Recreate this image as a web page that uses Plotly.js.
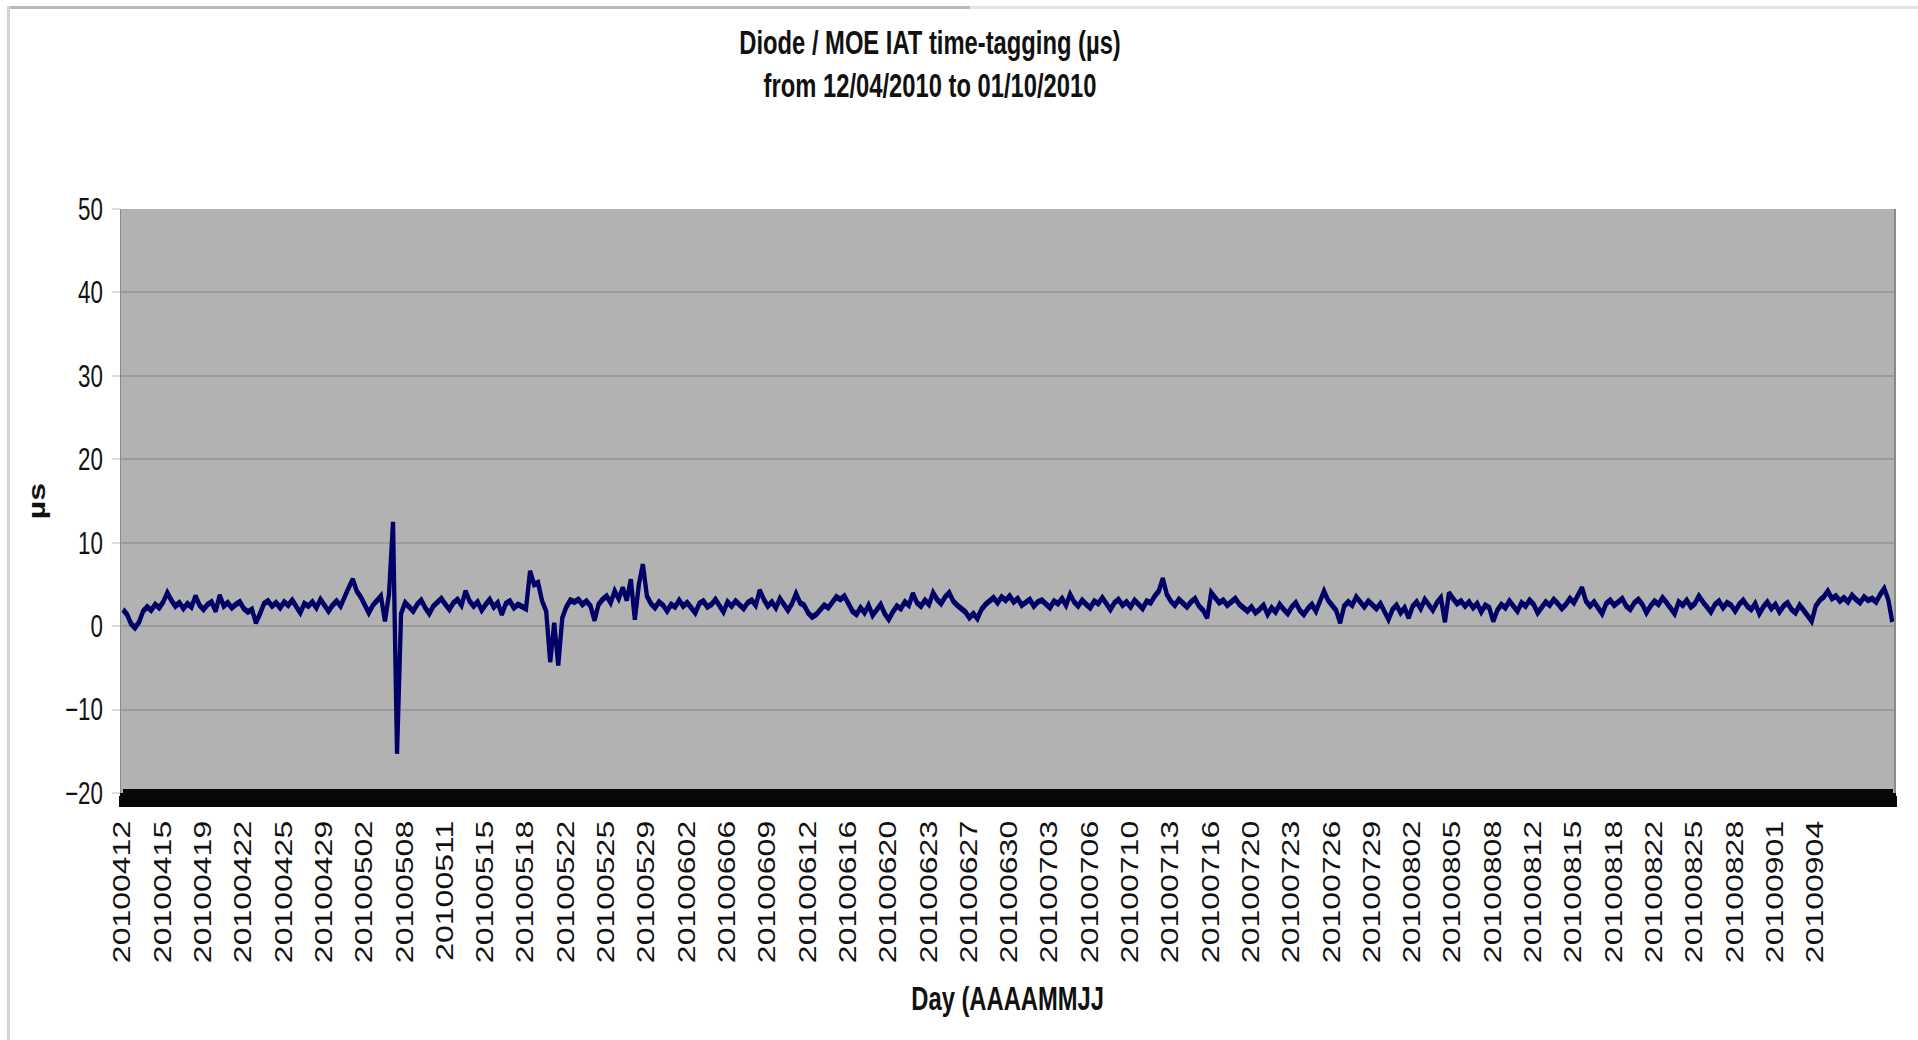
<!DOCTYPE html>
<html>
<head>
<meta charset="utf-8">
<script src="https://cdn.plot.ly/plotly-3.0.1.min.js"></script>
<style>
  html, body { margin: 0; padding: 0; background: #ffffff; overflow: hidden; }
  #frame { position: relative; width: 1918px; height: 1040px; overflow: hidden; background: #ffffff; }
  #edgeTopDark { position: absolute; left: 7px; top: 6px; width: 963px; height: 3px; background: #b9b9b9; }
  #edgeTopLight { position: absolute; left: 970px; top: 6px; width: 948px; height: 3px; background: #e3e3e3; }
  #edgeLeft { position: absolute; left: 7px; top: 6px; width: 3px; height: 1034px; background: #d3d3d3; }
  /* the chart is laid out wide and squeezed horizontally, giving its narrow lettering */
  #squeeze { position: absolute; left: 0; top: 0; transform-origin: 0 0; }
</style>
</head>
<body>
<div id="frame">
  <div id="edgeTopDark"></div>
  <div id="edgeTopLight"></div>
  <div id="edgeLeft"></div>
  <div id="squeeze"><div id="chart"></div></div>
</div>
<script>
// Category labels shown on the day axis (one every labelStep samples)
const dayLabels = [
  '20100412','20100415','20100419','20100422','20100425','20100429','20100502','20100508',
  '20100511','20100515','20100518','20100522','20100525','20100529','20100602','20100606',
  '20100609','20100612','20100616','20100620','20100623','20100627','20100630','20100703',
  '20100706','20100710','20100713','20100716','20100720','20100723','20100726','20100729',
  '20100802','20100805','20100808','20100812','20100815','20100818','20100822','20100825',
  '20100828','20100901','20100904'
];
const labelStep = 10;

// Diode / MOE IAT time-tagging samples, in microseconds
const iatMicros = [
  2.0, 1.4, 0.3, -0.2, 0.5, 1.8, 2.3, 1.9, 2.6, 2.2, 2.9, 4.0, 3.1, 2.4, 2.8, 2.1, 2.7, 2.3, 3.6, 2.5,
  2.0, 2.6, 2.9, 1.8, 3.7, 2.4, 2.8, 2.2, 2.6, 2.9, 2.1, 1.7, 2.0, 0.4, 1.5, 2.7, 3.0, 2.4, 2.8, 2.2,
  2.9, 2.5, 3.1, 2.3, 1.6, 2.7, 2.4, 2.9, 2.2, 3.2, 2.6, 1.8, 2.5, 3.0, 2.4, 3.6, 4.6, 5.6, 4.2, 3.5,
  2.6, 1.6, 2.5, 3.1, 3.6, 0.6, 3.8, 12.5, -15.3, 1.5, 2.8, 2.3, 1.8, 2.6, 3.1, 2.2, 1.5, 2.4, 2.9, 3.3,
  2.6, 2.0, 2.8, 3.2, 2.5, 4.2, 3.0, 2.4, 2.9, 1.9, 2.6, 3.2, 2.3, 2.8, 1.4, 2.7, 3.0, 2.2, 2.6, 2.4,
  2.1, 6.6, 5.0, 5.2, 3.0, 1.8, -4.3, 0.4, -4.7, 1.0, 2.3, 3.1, 2.9, 3.2, 2.6, 3.0, 2.4, 0.7, 2.6, 3.2,
  3.6, 2.8, 4.2, 3.3, 4.6, 3.1, 5.6, 0.8, 5.0, 7.4, 3.6, 2.7, 2.2, 2.9, 2.5, 1.8, 2.6, 2.3, 3.1, 2.4,
  2.8, 2.2, 1.6, 2.7, 3.0, 2.3, 2.6, 3.2, 2.5, 1.7, 2.9, 2.4, 3.0, 2.6, 2.1, 2.8, 3.1, 2.5, 4.3, 3.2,
  2.4, 2.9, 2.2, 3.3, 2.6, 1.9, 2.7, 3.9, 2.8, 2.5, 1.6, 1.1, 1.4, 1.9, 2.5, 2.2, 2.8, 3.5, 3.2, 3.6,
  2.7, 1.8, 1.4, 2.2, 1.6, 2.5, 1.3, 1.9, 2.6, 1.5, 0.8, 1.7, 2.4, 2.1, 2.9, 2.5, 3.9, 2.8, 2.4, 3.1,
  2.6, 4.0, 3.2, 2.7, 3.5, 4.0, 3.0, 2.5, 2.1, 1.7, 1.0, 1.5, 0.9, 2.0, 2.6, 3.0, 3.4, 2.8, 3.5, 3.1,
  3.6, 2.9, 3.3, 2.5, 2.8, 3.2, 2.4, 2.9, 3.1, 2.6, 2.2, 3.0, 2.7, 3.3, 2.5, 3.8, 2.9, 2.4, 3.1, 2.6,
  2.2, 3.0, 2.7, 3.4, 2.6, 2.0, 2.8, 3.2, 2.5, 2.9, 2.3, 3.1, 2.6, 2.1, 3.0, 2.8, 3.6, 4.2, 5.7, 3.8,
  3.0, 2.5, 3.2, 2.8, 2.3, 2.9, 3.3, 2.4, 1.9, 1.0, 4.0, 3.4, 2.8, 3.1, 2.5, 2.9, 3.3, 2.6, 2.2, 1.8,
  2.3, 1.6, 2.0, 2.5, 1.4, 2.2, 1.7, 2.6, 2.0, 1.5, 2.3, 2.8, 1.9, 1.4, 2.1, 2.6, 1.8, 2.9, 4.2, 3.1,
  2.6, 1.9, 0.4, 2.4, 2.9, 2.5, 3.5, 2.8, 2.3, 3.0, 2.6, 2.1, 2.7, 1.8, 0.8, 2.0, 2.5, 1.6, 2.2, 1.0,
  2.4, 2.9, 2.1, 3.2, 2.6, 1.9, 2.8, 3.4, 0.5, 4.0, 3.3, 2.7, 3.0, 2.4, 2.9, 2.2, 2.7, 1.7, 2.5, 2.2,
  0.6, 1.9, 2.6, 2.2, 3.0, 2.5, 1.8, 2.8, 2.4, 3.1, 2.6, 1.6, 2.3, 2.9, 2.5, 3.2, 2.7, 2.1, 2.6, 3.3,
  2.8, 3.6, 4.6, 3.0, 2.4, 2.9, 2.2, 1.5, 2.7, 3.1, 2.5, 2.9, 3.3, 2.4, 2.0, 2.8, 3.2, 2.6, 1.6, 2.4,
  3.0, 2.6, 3.4, 2.8, 2.2, 1.5, 2.9, 2.5, 3.1, 2.3, 2.7, 3.6, 2.9, 2.4, 1.7, 2.6, 3.0, 2.2, 2.8, 2.5,
  1.8, 2.6, 3.1, 2.4, 2.0, 2.7, 1.5, 2.3, 2.9, 2.1, 2.6, 1.7, 2.4, 2.8, 2.0, 1.6, 2.5, 1.9, 1.2, 0.6,
  2.4, 3.1, 3.5, 4.2, 3.3, 3.6, 3.0, 3.4, 2.9, 3.7, 3.2, 2.8, 3.5, 3.1, 3.3, 2.9, 3.8, 4.5, 3.2, 0.5
];

// Horizontal squeeze applied to the whole chart
const squeeze = 0.72;
const pageW = 1918, pageH = 1040;
const chartW = Math.round(pageW / squeeze);

const sampleIndex = iatMicros.map((_, i) => i);
const tickIdx = dayLabels.map((_, k) => k * labelStep);
const xRange = [-0.5, iatMicros.length - 0.5];

const fontFamily = '"Liberation Sans", Arial, sans-serif';
const textColor = '#111111';
const bandColor = '#080808';

// Hidden copies of the series that carry the two tick-mark axes
function carrier(axisId) {
  return {
    type: 'scatter', mode: 'lines',
    x: sampleIndex, y: iatMicros,
    xaxis: axisId, yaxis: 'y',
    line: { color: 'rgba(0,0,0,0)', width: 0 },
    hoverinfo: 'skip', showlegend: false
  };
}

const traces = [
  carrier('x2'),
  carrier('x3'),
  {
    type: 'scatter',
    mode: 'lines',
    x: sampleIndex,
    y: iatMicros,
    xaxis: 'x', yaxis: 'y',
    line: { color: '#000066', width: 6 },
    hoverinfo: 'skip',
    showlegend: false
  }
];

const layout = {
  width: chartW,
  height: pageH,
  paper_bgcolor: 'rgba(0,0,0,0)',
  plot_bgcolor: '#b2b2b2',
  margin: { l: Math.round(121 / squeeze), r: chartW - Math.round(1894 / squeeze), t: 209, b: 247 },
  showlegend: false,
  title: {
    text: 'Diode / MOE IAT time-tagging (µs)<br>from 12/04/2010 to 01/10/2010',
    font: { family: fontFamily, size: 33, color: textColor, weight: 'bold' },
    xref: 'container', x: 930 / pageW, xanchor: 'center',
    yref: 'container', y: 1 - 54 / pageH, yanchor: 'top'
  },
  xaxis: {
    range: xRange,
    tickmode: 'array',
    tickvals: tickIdx,
    ticktext: dayLabels,
    tickangle: -90,
    ticks: 'outside',
    ticklen: 11,
    tickcolor: 'rgba(0,0,0,0)',
    ticklabelstandoff: 3,
    tickfont: { family: fontFamily, size: 32, color: textColor },
    showgrid: false,
    zeroline: false,
    showline: false,
    title: {
      text: 'Day (AAAAMMJJ',
      font: { family: fontFamily, size: 33, color: textColor, weight: 'bold' },
      standoff: 24
    }
  },
  // dense category tick marks along the bottom edge, packed into a dark band
  xaxis2: {
    overlaying: 'x', anchor: 'y', side: 'bottom',
    range: xRange,
    tickmode: 'linear', tick0: -0.5, dtick: 1,
    ticks: 'outside', ticklen: 11, tickwidth: 6.5, tickcolor: bandColor,
    showticklabels: false, showgrid: false, zeroline: false,
    showline: true, linecolor: bandColor, linewidth: 3
  },
  xaxis3: {
    overlaying: 'x', anchor: 'y', side: 'bottom',
    range: xRange,
    tickmode: 'linear', tick0: -0.5, dtick: 1,
    ticks: 'inside', ticklen: 4, tickwidth: 6.5, tickcolor: bandColor,
    showticklabels: false, showgrid: false, zeroline: false, showline: false
  },
  yaxis: {
    range: [-20, 50],
    tickmode: 'linear', tick0: -20, dtick: 10,
    ticks: 'outside', ticklen: 11, tickwidth: 2, tickcolor: '#dddddd',
    ticklabelstandoff: 6,
    tickfont: { family: fontFamily, size: 31, color: textColor },
    showgrid: true, gridcolor: '#9b9b9b', gridwidth: 2,
    zeroline: false,
    showline: true, linecolor: '#8a8a8a', linewidth: 2, mirror: true,
    title: {
      text: 'µs',
      font: { family: fontFamily, size: 32, color: textColor, weight: 'bold' },
      standoff: 18
    }
  }
};

document.getElementById('squeeze').style.transform = 'scaleX(' + squeeze + ')';
Plotly.newPlot('chart', traces, layout, { staticPlot: true, displayModeBar: false });
</script>
</body>
</html>
